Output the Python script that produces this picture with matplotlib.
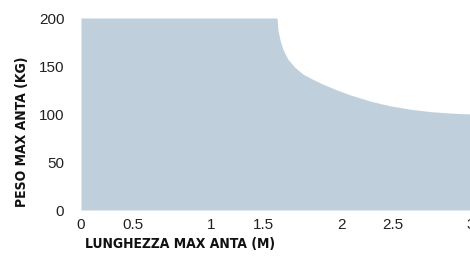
import matplotlib
matplotlib.use("Agg")
import matplotlib.pyplot as plt
import matplotlib.transforms as mtransforms

# Max leaf length (m) vs max leaf weight (kg)
lunghezza = [0.0, 1.508, 1.515, 1.531, 1.554, 1.592, 1.646, 1.708, 1.785,
             1.862, 1.969, 2.069, 2.223, 2.377, 2.531, 2.685, 2.838, 3.0]
peso = [200, 200, 187.5, 177, 167, 157, 148.5, 141.5, 136,
        131, 125, 120, 113.5, 108.5, 105, 102.5, 101, 100]

x_ticks = [0, 0.5, 1, 1.5, 2, 2.5, 3]
x_labels = ["0", "0.5", "1", "1.5", "2", "2.5", "3"]
y_ticks = [0, 50, 100, 150, 200]

fill_color = "#bfd0dc"
tick_font = ["Liberation Sans", "DejaVu Sans"]
label_font = ["Liberation Sans Narrow", "DejaVu Sans"]

fig = plt.figure(figsize=(4.7, 2.56), dpi=100)
ax = fig.add_axes([81 / 470, 1 - 210 / 256, 390 / 470, 192 / 256])

ax.fill_between(lunghezza, peso, 0, color=fill_color, linewidth=0)

ax.set_xlim(0, 3)
ax.set_ylim(0, 200)
ax.set_xticks(x_ticks)
ax.set_xticklabels(x_labels)
ax.set_yticks(y_ticks)

for s in ax.spines.values():
    s.set_visible(False)
ax.tick_params(axis="both", length=0, labelsize=11, labelcolor="#222222")
ax.tick_params(axis="x", pad=6)
ax.tick_params(axis="y", pad=12)

for lab in ax.get_xticklabels() + ax.get_yticklabels():
    lab.set_fontfamily(tick_font)

# the half-unit labels sit a little left of their ticks in the original
for lab in ax.get_xticklabels():
    if "." in lab.get_text():
        lab.set_transform(lab.get_transform() +
                          mtransforms.ScaledTranslation(-13 / 100, 0, fig.dpi_scale_trans))

# bold condensed axis titles
title_kw = dict(fontsize=10, fontweight="bold", family=label_font,
                fontstretch="condensed", color="#111111")
fig.text(85 / 470, 1 - 244 / 256, "LUNGHEZZA MAX ANTA (M)", ha="left", va="center",
         **title_kw)
fig.text(22 / 470, 1 - 132 / 256, "PESO MAX ANTA (KG)", ha="center", va="center",
         rotation=90, **title_kw)

fig.savefig("out.png", dpi=100)
